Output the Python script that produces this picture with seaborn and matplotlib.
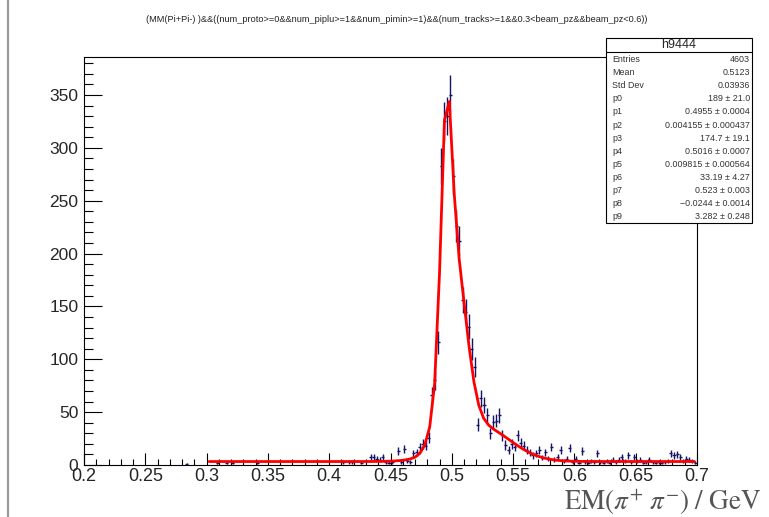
import numpy as np
import pandas as pd
import matplotlib
matplotlib.use("Agg")
import matplotlib.pyplot as plt
from matplotlib.ticker import MultipleLocator, FixedLocator
from matplotlib.lines import Line2D
from matplotlib.patches import Rectangle
import seaborn as sns

# ---------------- data ----------------
hist_name = "h9444"
cut_title = ("(MM(Pi+Pi-) )&&((num_proto>=0&&num_piplu>=1&&num_pimin>=1)"
             "&&(num_tracks>=1&&0.3<beam_pz&&beam_pz<0.6))")
x_lo, x_hi, n_bins = 0.2, 0.7, 200

# bin contents (200 bins of width 0.0025 from 0.2 to 0.7)
counts = [
    0, 0, 0, 0, 0, 0, 0, 0, 0, 0,          # 0-9
    0, 0, 0, 0, 0, 0, 0, 0, 0, 0,          # 10-19
    0, 0, 0, 0, 0, 0, 0, 0, 0, 0,          # 20-29
    0, 0, 0, 1, 0, 0, 0, 0, 0, 0,          # 30-39
    0, 0, 0, 2, 0, 0, 2, 0, 2, 0,          # 40-49
    0, 0, 0, 0, 0, 0, 2, 0, 0, 0,          # 50-59
    0, 0, 0, 0, 0, 0, 0, 0, 0, 0,          # 60-69
    0, 0, 0, 0, 0, 0, 0, 0, 0, 0,          # 70-79
    0, 0, 0, 0, 3, 0, 3, 3, 0, 0,          # 80-89
    2, 0, 0, 8, 8, 6, 5, 8, 3, 2,          # 90-99
    3, 0, 13, 3, 15, 4, 3, 11, 12, 17,     # 100-109
    20, 18, 26, 66, 80, 116, 283, 325, 330, 350,   # 110-119
    273, 226, 212, 156, 145, 131, 110, 93, 38, 63,  # 120-129
    57, 47, 30, 41, 42, 47, 28, 19, 14, 20,  # 130-139
    17, 28, 21, 18, 14, 12, 9, 11, 14, 7,    # 140-149
    12, 6, 17, 5, 8, 14, 4, 6, 16, 3,        # 150-159
    6, 2, 13, 3, 2, 4, 3, 11, 3, 2,          # 160-169
    4, 2, 5, 3, 5, 8, 4, 9, 3, 8,            # 170-179
    4, 5, 2, 3, 5, 3, 2, 3, 2, 3,            # 180-189
    4, 11, 9, 10, 8, 4, 6, 5, 4, 2,          # 190-199
]

# fit parameters (from the stats box)
stat_labels = ["Entries", "Mean", "Std Dev", "p0", "p1", "p2", "p3", "p4",
               "p5", "p6", "p7", "p8", "p9"]
stat_values = ["4603", "0.5123", "0.03936", "189 \u00b1 21.0",
               "0.4955 \u00b1 0.0004", "0.004155 \u00b1 0.000437",
               "174.7 \u00b1 19.1", "0.5016 \u00b1 0.0007",
               "0.009815 \u00b1 0.000564", "33.19 \u00b1 4.27",
               "0.523 \u00b1 0.003", "\u22120.0244 \u00b1 0.0014",
               "3.282 \u00b1 0.248"]
fit_params = [189.0, 0.4955, 0.004155, 174.7, 0.5016, 0.009815,
              33.19, 0.523, -0.0244, 3.282]
fit_range = (0.3, 0.7)
fit_npx = 100

x_ticks = [0.2, 0.25, 0.3, 0.35, 0.4, 0.45, 0.5, 0.55, 0.6, 0.65, 0.7]
x_tick_labels = ["0.2", "0.25", "0.3", "0.35", "0.4", "0.45", "0.5",
                 "0.55", "0.6", "0.65", "0.7"]
y_ticks = [0, 50, 100, 150, 200, 250, 300, 350]
x_label = r"$\mathrm{EM}(\pi^{+}\ \pi^{-})\ /\ \mathrm{GeV}$"

# ---------------- derived ----------------
counts_arr = np.array(counts, dtype=float)
width = (x_hi - x_lo) / n_bins
centers = x_lo + (np.arange(n_bins) + 0.5) * width
nz = counts_arr > 0
df = pd.DataFrame({"x": centers[nz], "y": counts_arr[nz],
                   "err": np.sqrt(counts_arr[nz])})


def fit_func(x, p):
    g1 = p[0] * np.exp(-0.5 * ((x - p[1]) / p[2]) ** 2)
    g2 = p[3] * np.exp(-0.5 * ((x - p[4]) / p[5]) ** 2)
    g3 = p[6] * np.exp(-0.5 * ((x - p[7]) / p[8]) ** 2)
    return g1 + g2 + g3 + p[9]


# ROOT evaluates a TF1 at the centres of fNpx sampling bins
dxf = (fit_range[1] - fit_range[0]) / fit_npx
xf = fit_range[0] + (np.arange(fit_npx) + 0.5) * dxf
fit_df = pd.DataFrame({"x": xf, "y": fit_func(xf, fit_params)})

# ---------------- figure ----------------
sns.set_theme(style="white")
plt.rcParams["font.family"] = ["Liberation Sans", "DejaVu Sans"]
plt.rcParams["mathtext.fontset"] = "stix"

W, H = 769, 517
fig = plt.figure(figsize=(W / 100, H / 100), dpi=100)
fig.patch.set_facecolor("white")
ax_l, ax_r, ax_t, ax_b = 84, 697, 57, 465
ax = fig.add_axes([ax_l / W, 1 - ax_b / H, (ax_r - ax_l) / W, (ax_b - ax_t) / H])
ax.set_facecolor("white")

# data points with errors
ax.errorbar(df["x"], df["y"], xerr=width / 2, yerr=df["err"], fmt="none",
            ecolor="#141466", elinewidth=1.0, capsize=0, zorder=2)
# fit curve
sns.lineplot(data=fit_df, x="x", y="y", ax=ax, color="#ff0000",
             linewidth=2.0, estimator=None, sort=False, zorder=3)

ax.set_xlim(x_lo, x_hi)
ax.set_ylim(0, 386)
ax.xaxis.set_major_locator(FixedLocator(x_ticks))
ax.set_xticklabels(x_tick_labels)
ax.xaxis.set_minor_locator(MultipleLocator(0.01))
ax.yaxis.set_major_locator(FixedLocator(y_ticks))
ax.set_yticklabels([str(v) for v in y_ticks])
ax.yaxis.set_minor_locator(MultipleLocator(10))
ax.tick_params(axis="x", which="major", direction="in", length=9, width=0.8,
               labelsize=13, pad=2, top=False, bottom=True, color="black")
ax.tick_params(axis="x", which="minor", direction="in", length=4.5, width=0.8,
               top=False, bottom=True, color="black")
ax.tick_params(axis="y", which="major", direction="in", length=13, width=0.8,
               labelsize=12.5, pad=4, left=True, right=False, color="black")
ax.tick_params(axis="y", which="minor", direction="in", length=6.5, width=0.8,
               left=True, right=False, color="black")
for s in ax.spines.values():
    s.set_visible(True)
    s.set_color("black")
    s.set_linewidth(0.8)
ax.set_xlabel("")
ax.set_ylabel("")

# title
fig.text(397 / W, 1 - 19 / H, cut_title, ha="center", va="center",
         fontsize=6.6, color="#222222")

# stats box
bx0, bx1, by0, by1 = 606, 752, 38, 223
box = Rectangle((bx0 / W, 1 - by1 / H), (bx1 - bx0) / W, (by1 - by0) / H,
                transform=fig.transFigure, facecolor="white",
                edgecolor="black", linewidth=0.8, zorder=10)
fig.patches.append(box)
fig.lines.append(Line2D([bx0 / W, bx1 / W], [1 - 52 / H, 1 - 52 / H],
                        transform=fig.transFigure, color="black",
                        linewidth=0.8, zorder=11))
fig.text((bx0 + bx1) / 2 / W, 1 - 45.5 / H, hist_name, ha="center",
         va="center", fontsize=9, zorder=12)
row0, dy = 59.5, 13.1
for k, (lab, val) in enumerate(zip(stat_labels, stat_values)):
    yy = 1 - (row0 + k * dy) / H
    fig.text((bx0 + 6) / W, yy, lab, ha="left", va="center",
             fontsize=6.4, color="#333333", zorder=12)
    fig.text((bx1 - 2) / W, yy, val, ha="right", va="center",
             fontsize=6.4, color="#333333", zorder=12)

# x label
fig.text(762 / W, 1 - 510 / H, x_label, ha="right", va="baseline",
         fontsize=19.5, color="#555555")

# gray frame line on the left
fig.lines.append(Line2D([8 / W, 8 / W], [0, 1], transform=fig.transFigure,
                        color="#9a9a9a", linewidth=1.6))

fig.savefig("out.png", dpi=100, facecolor="white")
